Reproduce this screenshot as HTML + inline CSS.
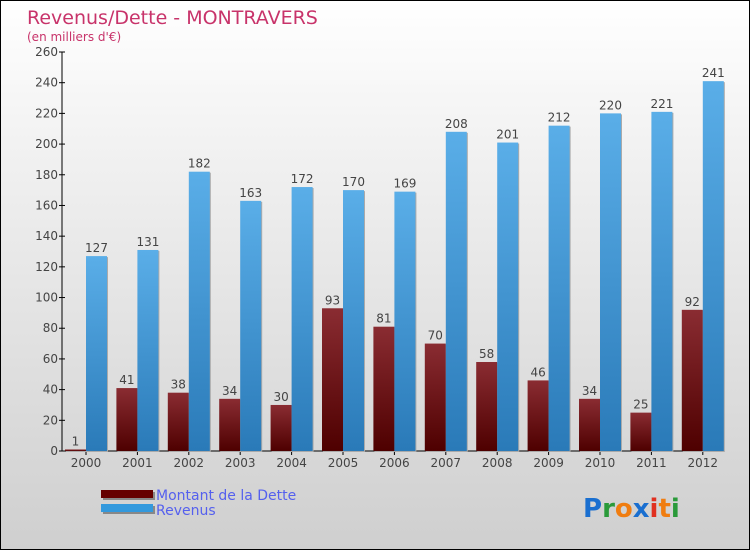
<!DOCTYPE html>
<html><head><meta charset="utf-8"><style>
body{margin:0}
#c{width:748px;height:548px;border:1px solid #000;background:linear-gradient(#fff,#f0f0f0 30%,#cfcfcf);position:relative;overflow:hidden;font-family:"DejaVu Sans","Liberation Sans",sans-serif}
</style></head><body>
<div id="c">
<svg id="s" width="748" height="548">
<defs>
<linearGradient id="gd" x1="0" y1="0" x2="0" y2="1"><stop offset="0" stop-color="#8a2c32"/><stop offset="1" stop-color="#4e0000"/></linearGradient>
<linearGradient id="gr" x1="0" y1="0" x2="0" y2="1"><stop offset="0" stop-color="#5aaee8"/><stop offset="1" stop-color="#2a7ab8"/></linearGradient>
</defs>
<text x="26" y="23" font-size="19" fill="#c8336a">Revenus/Dette - MONTRAVERS</text>
<text x="26" y="40" font-size="12" fill="#c8336a">(en milliers d'€)</text>
<g id="g"></g>
<g>
<rect x="102" y="491" width="52" height="8" fill="#888"/><rect x="100" y="489" width="52" height="8" fill="#660000"/>
<text x="155" y="499" font-size="14" fill="#5560ee">Montant de la Dette</text>
<rect x="102" y="505" width="52" height="8" fill="#888"/><rect x="100" y="503" width="52" height="8" fill="#3399dd"/>
<text x="155" y="514" font-size="14" fill="#5560ee">Revenus</text>
</g>
<g font-size="26" font-family="DejaVu Sans" font-weight="bold">
<text x="582" y="516"><tspan fill="#1a6fd0">P</tspan><tspan fill="#2a9a3a">r</tspan><tspan fill="#f07d10">o</tspan><tspan fill="#1a6fd0">x</tspan><tspan fill="#e03020">i</tspan><tspan fill="#f07d10">t</tspan><tspan fill="#2a9a3a">i</tspan></text>
</g>
</svg>
</div>
<script>
const years=["2000","2001","2002","2003","2004","2005","2006","2007","2008","2009","2010","2011","2012"];
const dette=[1,41,38,34,30,93,81,70,58,46,34,25,92];
const revenus=[127,131,182,163,172,170,169,208,201,212,220,221,241];
const yTicks=[0,20,40,60,80,100,120,140,160,180,200,220,240,260];
const NS="http://www.w3.org/2000/svg";
const g=document.getElementById('g');
const x0=61,y0=450,yTop=51,step=51.4;
const y=v=>y0-(y0-yTop)*v/260;
const xc=i=>85+i*step;
function el(t,a,p){const e=document.createElementNS(NS,t);for(const k in a)e.setAttribute(k,a[k]);(p||g).appendChild(e);return e;}
el('line',{x1:x0,y1:y0,x2:x0,y2:yTop,stroke:'#000'});
el('line',{x1:x0,y1:y0,x2:722,y2:y0,stroke:'#000'});
yTicks.forEach(v=>{
 el('line',{x1:x0-3,y1:y(v),x2:x0+3,y2:y(v),stroke:'#000'});
 const t=el('text',{x:x0-4,y:y(v)+4,'font-size':12,fill:'#444','text-anchor':'end'});
 
 
 t.textContent=v;
});
years.forEach((yr,i)=>{
 const c=xc(i);
 el('line',{x1:c,y1:y0,x2:c,y2:y0+4,stroke:'#000'});
 const t=el('text',{x:c,y:y0+16,'font-size':12,fill:'#444','text-anchor':'middle'});
 
 
 t.textContent=yr;
 const bw=21;
 el('rect',{x:c-bw+1,y:y(dette[i])+1,width:bw,height:y0-y(dette[i]),fill:'#aaa'});
 const b1=el('rect',{x:c-bw,y:y(dette[i]),width:bw,height:y0-y(dette[i]),fill:'url(#gd)'});
 
 
 el('rect',{x:c+1,y:y(revenus[i])+1,width:bw,height:y0-y(revenus[i]),fill:'#aaa'});
 const b2=el('rect',{x:c,y:y(revenus[i]),width:bw,height:y0-y(revenus[i]),fill:'url(#gr)'});
 
 
 const l1=el('text',{x:c-bw/2,y:y(dette[i])-4,'font-size':12,fill:'#444','text-anchor':'middle'});
 
 
 l1.textContent=dette[i];
 const l2=el('text',{x:c+bw/2,y:y(revenus[i])-4,'font-size':12,fill:'#444','text-anchor':'middle'});
 
 
 l2.textContent=revenus[i];
});
</script>
</body></html>
